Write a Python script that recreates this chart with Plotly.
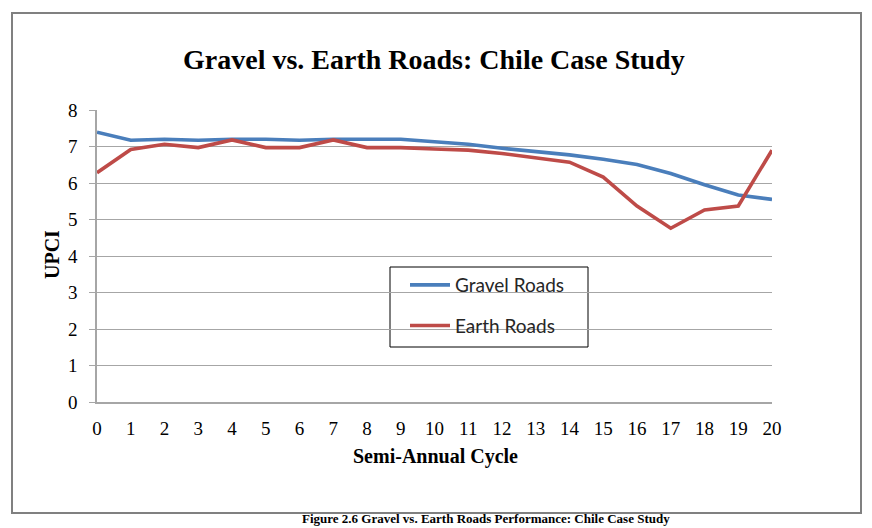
import plotly.graph_objects as go

cycles = list(range(21))
gravel = [7.39, 7.17, 7.20, 7.17, 7.20, 7.20, 7.17, 7.20, 7.20, 7.20, 7.13,
          7.06, 6.95, 6.86, 6.77, 6.65, 6.51, 6.26, 5.95, 5.67, 5.55]
earth = [6.28, 6.92, 7.06, 6.97, 7.18, 6.97, 6.97, 7.18, 6.97, 6.97, 6.93,
         6.90, 6.81, 6.70, 6.57, 6.16, 5.37, 4.76, 5.26, 5.37, 6.90]

title_text = "Gravel vs. Earth Roads: Chile Case Study"
x_title = "Semi-Annual Cycle"
y_title = "UPCI"
caption = "Figure 2.6 Gravel vs. Earth Roads Performance: Chile Case Study"

# page is offset by the default 8px body margin
OFF = 8
W, H = 872 - OFF, 528 - OFF
L, R, T, B = 97, 772, 110, 402          # plot area in page pixels
pw, ph = R - L, B - T

def px(x):
    return (x - L) / pw

def py(y):
    return (B - y) / ph

serif = "Liberation Serif"

fig = go.Figure()
fig.add_trace(go.Scatter(x=cycles, y=gravel, mode="lines", name="Gravel Roads",
                         legendgroup="g", line=dict(color="#4A7EBB", width=3.6)))
fig.add_trace(go.Scatter(x=cycles, y=earth, mode="lines", name="Earth Roads",
                         legendgroup="e", line=dict(color="#BE4B48", width=3.6)))

fig.update_layout(
    width=W, height=H,
    margin=dict(l=L - OFF, r=W - (R - OFF), t=T - OFF, b=H - (B - OFF)),
    paper_bgcolor="white", plot_bgcolor="white",
    showlegend=True,
    legend=dict(x=px(405), y=py(266), xanchor="left", yanchor="top",
                bgcolor="rgba(0,0,0,0)", borderwidth=0,
                font=dict(family="Lato", size=19, color="#262626"),
                tracegroupgap=13, itemwidth=40),
    xaxis=dict(range=[0, 20], tickmode="array", tickvals=cycles,
               ticktext=[str(c) for c in cycles], showgrid=False,
               showline=True, linecolor="#A6A6A6", linewidth=1.5, ticks="",
               ticklabelstandoff=8,
               tickfont=dict(family=serif, size=19, color="#000000"),
               zeroline=False, fixedrange=True),
    yaxis=dict(range=[0, 8], dtick=1, showgrid=True, gridcolor="#A6A6A6",
               gridwidth=1, showline=True, linecolor="#A6A6A6", linewidth=1.5,
               ticks="outside", ticklen=6, tickcolor="#A6A6A6",
               ticklabelstandoff=8,
               tickfont=dict(family=serif, size=19, color="#000000"),
               zeroline=False, fixedrange=True),
    shapes=[
        dict(type="rect", xref="paper", yref="paper",
             x0=px(12), x1=px(861), y0=py(513), y1=py(13),
             line=dict(color="#808080", width=2), layer="below"),
        dict(type="rect", xref="paper", yref="paper",
             x0=px(390), x1=px(588), y0=py(347), y1=py(267),
             line=dict(color="#000000", width=1), fillcolor="white",
             layer="between"),
    ],
    annotations=[
        dict(text="<b>" + title_text + "</b>", xref="paper", yref="paper",
             x=px(434), y=py(60), xanchor="center", yanchor="middle",
             showarrow=False, font=dict(family=serif, size=28, color="#000000")),
        dict(text="<b>" + y_title + "</b>", xref="paper", yref="paper",
             x=px(52), y=py(255), xanchor="center", yanchor="middle",
             textangle=-90, showarrow=False,
             font=dict(family=serif, size=20, color="#000000")),
        dict(text="<b>" + x_title + "</b>", xref="paper", yref="paper",
             x=px(435), y=py(456), xanchor="center", yanchor="middle",
             showarrow=False, font=dict(family=serif, size=20, color="#000000")),
        dict(text="<b>" + caption + "</b>", xref="paper", yref="paper",
             x=px(486), y=py(528), xanchor="center", yanchor="bottom",
             showarrow=False, font=dict(family=serif, size=13, color="#000000")),
    ],
)

fig.write_html("out.html")
